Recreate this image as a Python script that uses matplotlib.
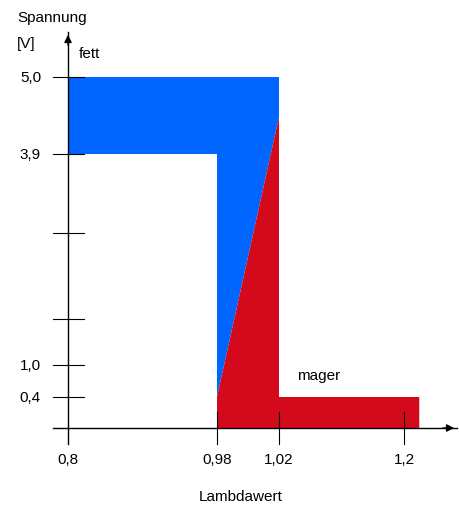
import numpy as np
import matplotlib
matplotlib.use("Agg")
import matplotlib.pyplot as plt

# lambda values and the (schematic, non-linear) x axis
x_ticks = [0.8, 0.98, 1.02, 1.2]
x_labels = ["0,8", "0,98", "1,02", "1,2"]
# voltage values on the (schematic) y axis
y_ticks = [0.4, 1.0, 1.63, 2.81, 3.9, 5.0]
y_labels = ["0,4", "1,0", "", "", "3,9", "5,0"]

# "fett" (rich) region
fett_x = [0.8, 1.02, 1.02, 0.98, 0.98, 0.8]
fett_y = [5.0, 5.0, 4.43, 0.4, 3.9, 3.9]
# "mager" (lean) region
mager_x = [0.98, 0.98, 1.02, 1.02, 1.222, 1.222]
mager_y = [0.0, 0.4, 4.43, 0.4, 0.4, 0.0]

# piecewise axis layout (drawing units), the original chart is not to scale
X_DATA = [0.7, 0.8, 0.98, 1.02, 1.2, 1.3]
X_UNIT = [-14.8, 68, 217, 279, 404, 473.4]
Y_DATA = [-1.5, 0.0, 0.4, 1.0, 3.9, 5.0, 6.5]
Y_UNIT = [-116, 0, 31, 63, 274, 351, 456]


def fx(v):
    return np.interp(v, X_DATA, X_UNIT)


def fx_inv(v):
    return np.interp(v, X_UNIT, X_DATA)


def fy(v):
    return np.interp(v, Y_DATA, Y_UNIT)


def fy_inv(v):
    return np.interp(v, Y_UNIT, Y_DATA)


plt.rcParams["font.family"] = ["Liberation Sans", "DejaVu Sans"]
FS = 11

fig = plt.figure(figsize=(4.6, 5.1), dpi=100)
ax = fig.add_axes([0, 0, 1, 1])
ax.set_xscale("function", functions=(fx, fx_inv))
ax.set_yscale("function", functions=(fy, fy_inv))
ax.set_xlim(fx_inv(0), fx_inv(460))
ax.set_ylim(fy_inv(-81), fy_inv(429))
ax.axis("off")

ax.fill(fett_x, fett_y, color="#0066ff", lw=0)
ax.fill(mager_x, mager_y, color="#d20a1c", lw=0)

# axes with arrows
x0, x1 = fx_inv(53), fx_inv(457)
y0, y1 = fy_inv(-16), fy_inv(396)
ax.plot([x0, x1], [0, 0], color="black", lw=1)
ax.annotate("", xy=(x1, 0), xytext=(fx_inv(440), 0),
            arrowprops=dict(arrowstyle="-|>", color="black", lw=1, mutation_scale=11))
ax.plot([0.8, 0.8], [y0, y1], color="black", lw=1)
ax.annotate("", xy=(0.8, y1), xytext=(0.8, fy_inv(380)),
            arrowprops=dict(arrowstyle="-|>", color="black", lw=1, mutation_scale=11))

# tick marks
tx0, tx1 = fx_inv(53), fx_inv(84)
for v, lab in zip(y_ticks, y_labels):
    ax.plot([tx0, tx1], [v, v], color="black", lw=0.8)
    ax.text(fx_inv(41), v, lab, ha="right", va="center", fontsize=FS)
ty0, ty1 = fy_inv(-16), fy_inv(16)
for v, lab in zip(x_ticks, x_labels):
    if v != 0.8:
        ax.plot([v, v], [ty0, ty1], color="black", lw=0.8)
    ax.text(v, fy_inv(-31), lab, ha="center", va="center", fontsize=FS)

ax.text(fx_inv(79), fy_inv(375), "fett", ha="left", va="center", fontsize=FS)
ax.text(fx_inv(297), fy_inv(53), "mager", ha="left", va="center", fontsize=FS)

fig.text(17 / 460, 1 - 18 / 510, "Spannung", ha="left", va="center", fontsize=FS)
fig.text(17 / 460, 1 - 44 / 510, "[V]", ha="left", va="center", fontsize=FS)
fig.text(241 / 460, 1 - 497 / 510, "Lambdawert", ha="center", va="center", fontsize=FS)

fig.savefig("out.png", dpi=100)
